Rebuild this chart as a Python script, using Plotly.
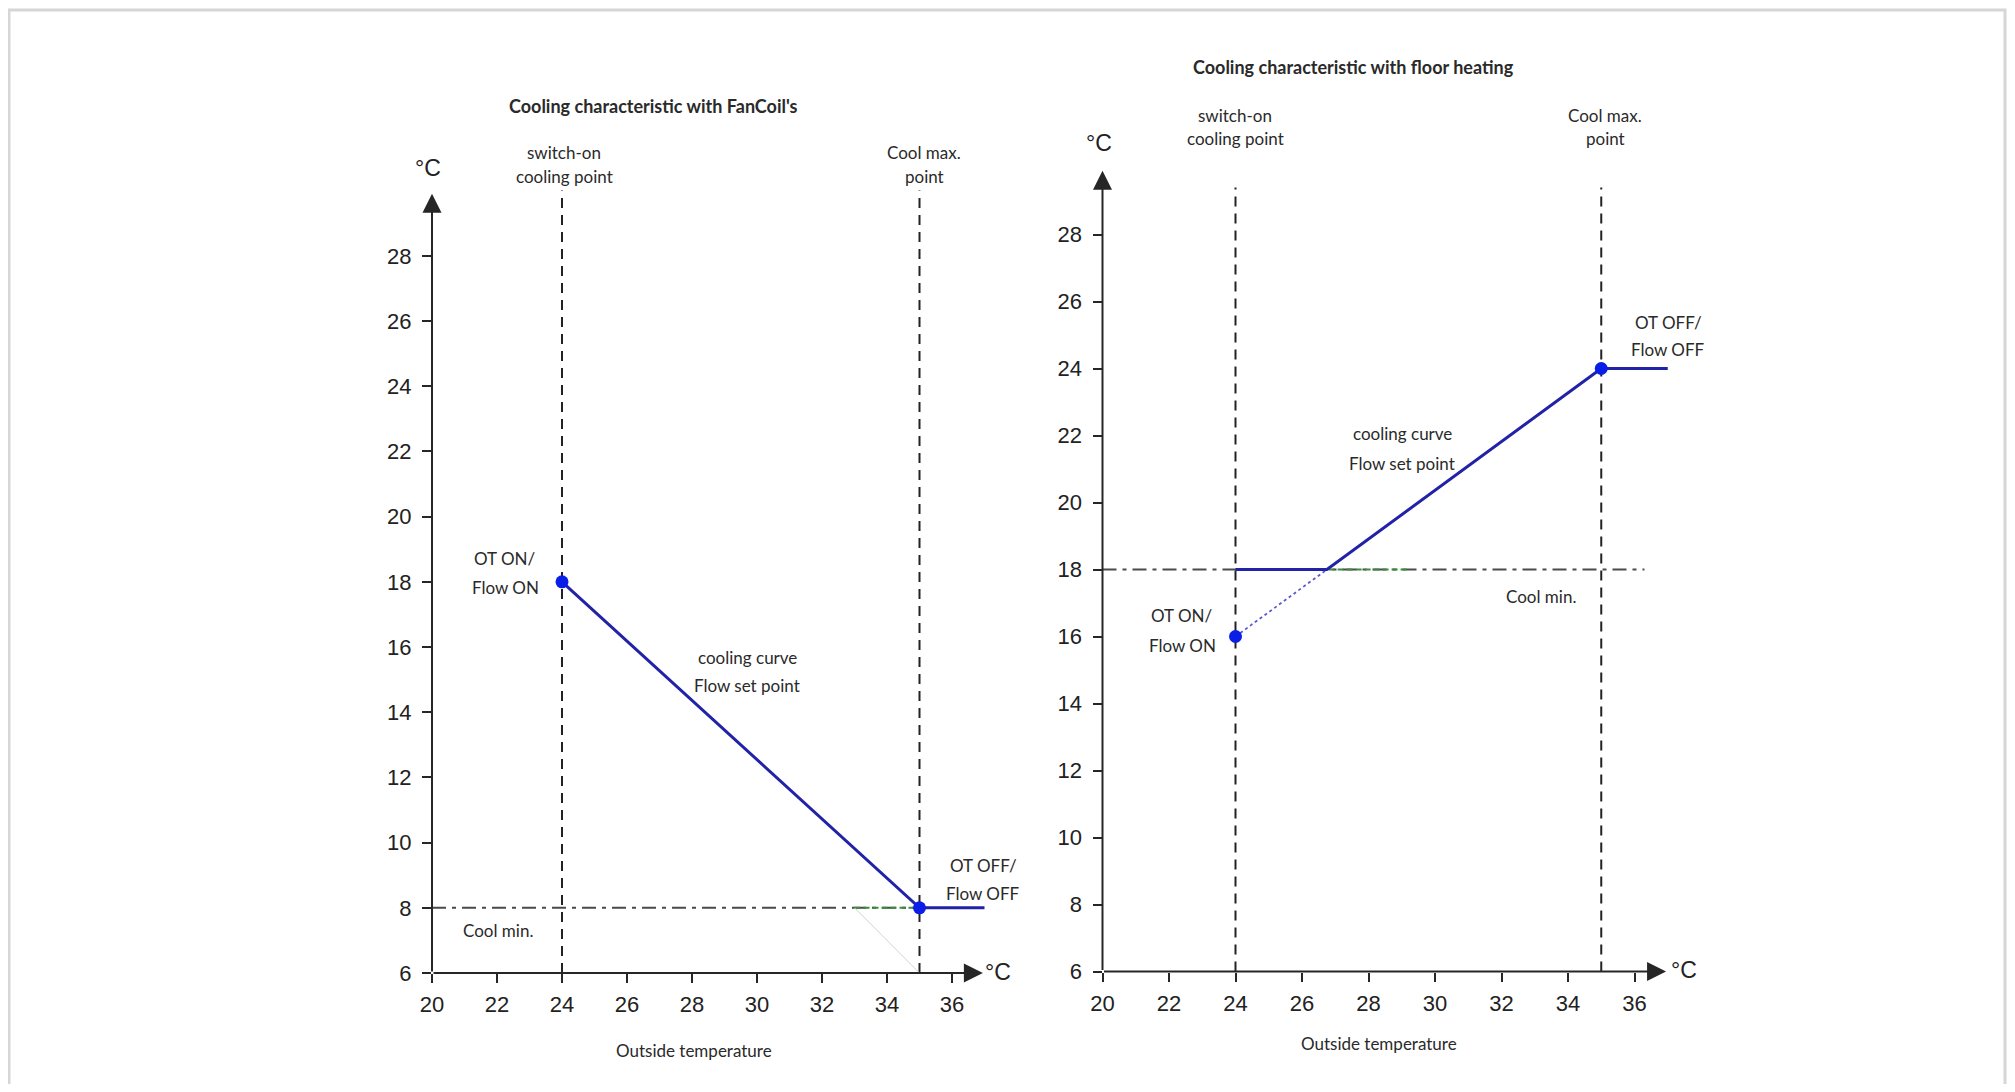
import plotly.graph_objects as go

# ---------------- data ----------------
x_ticks = [20, 22, 24, 26, 28, 30, 32, 34, 36]
y_ticks = [6, 8, 10, 12, 14, 16, 18, 20, 22, 24, 26, 28]

switch_on_point = 24
cool_max_point = 35

# FanCoil panel
fan_curve_x = [24, 35, 37]
fan_curve_y = [18, 8, 8]
fan_marker_x = [24, 35]
fan_marker_y = [18, 8]
fan_cool_min = 8

# Floor heating panel
floor_curve_x = [24, 26.75, 35, 37]
floor_curve_y = [18, 18, 24, 24]
floor_dotted_x = [24, 26.75]
floor_dotted_y = [16, 18]
floor_marker_x = [24, 35]
floor_marker_y = [16, 24]
floor_cool_min = 18

# ---------------- geometry ----------------
PAGE_MARGIN = 8           # default body margin of the html page
W, H = 2015 - 2 * PAGE_MARGIN, 1092 - 2 * PAGE_MARGIN
X_RANGE = [20, 37.3]
Y_RANGE = [6, 30.3]
# pixel position (in screen coords) of the origin and px per unit
L = dict(x0=432, y0=973, kx=32.5, ky=32.6)
R = dict(x0=1102.5, y0=971.5, kx=33.25, ky=33.5)


def sx(px):
    return (px - PAGE_MARGIN) / W


def sy(py):
    return 1 - (py - PAGE_MARGIN) / H


def dom(p):
    xd = [sx(p["x0"]), sx(p["x0"] + (X_RANGE[1] - X_RANGE[0]) * p["kx"])]
    yd = [sy(p["y0"]), sy(p["y0"] - (Y_RANGE[1] - Y_RANGE[0]) * p["ky"])]
    return xd, yd


AX_COL = "#262626"
LINE_BLUE = "#2222a8"
MARK_BLUE = "#0a1ee8"
TXT = "#2a2a2a"
TXT_FONT = "Lato, Carlito, Calibri, sans-serif"
NUM_FONT = "Liberation Sans, Arial, sans-serif"

fig = go.Figure()

# ---- traces left ----
fig.add_trace(go.Scatter(x=fan_curve_x, y=fan_curve_y, mode="lines",
                         line=dict(color=LINE_BLUE, width=3), xaxis="x", yaxis="y",
                         showlegend=False, hoverinfo="skip"))
fig.add_trace(go.Scatter(x=fan_marker_x, y=fan_marker_y, mode="markers",
                         marker=dict(color=MARK_BLUE, size=13), xaxis="x", yaxis="y",
                         showlegend=False, cliponaxis=False))

# ---- traces right ----
fig.add_trace(go.Scatter(x=floor_dotted_x, y=floor_dotted_y, mode="lines",
                         line=dict(color="#5a5ad0", width=1.8, dash="dot"), xaxis="x2", yaxis="y2",
                         showlegend=False, hoverinfo="skip"))
fig.add_trace(go.Scatter(x=floor_curve_x, y=floor_curve_y, mode="lines",
                         line=dict(color=LINE_BLUE, width=3), xaxis="x2", yaxis="y2",
                         showlegend=False, hoverinfo="skip"))
fig.add_trace(go.Scatter(x=floor_marker_x, y=floor_marker_y, mode="markers",
                         marker=dict(color=MARK_BLUE, size=13), xaxis="x2", yaxis="y2",
                         showlegend=False, cliponaxis=False))

shapes = []
annotations = []

# border frame (kept just inside the figure area)
shapes.append(dict(type="rect", xref="paper", yref="paper",
                   x0=sx(9), x1=1 - 2 / W, y0=-0.05, y1=1 - 2 / H,
                   line=dict(color="#d6d6d6", width=3), layer="below"))


def panel_shapes(xr, yr, cool_min, green_from, green_to, dd_end, vtop):
    out = []
    for xv in (switch_on_point, cool_max_point):
        out.append(dict(type="line", xref=xr, yref=yr, x0=xv, x1=xv, y0=Y_RANGE[0], y1=vtop,
                        line=dict(color="#222222", width=2, dash="10px,7px"), layer="below"))
    out.append(dict(type="line", xref=xr, yref=yr, x0=20, x1=dd_end, y0=cool_min, y1=cool_min,
                    line=dict(color="#4a4a4a", width=2, dash="14px,6px,4px,6px"), layer="below"))
    out.append(dict(type="line", xref=xr, yref=yr, x0=green_from, x1=green_to, y0=cool_min, y1=cool_min,
                    line=dict(color="#3c8c3c", width=2, dash="6px,3px"), layer="below"))
    return out


shapes += panel_shapes("x", "y", fan_cool_min, 33, cool_max_point, cool_max_point, 30.0)
shapes += panel_shapes("x2", "y2", floor_cool_min, 26.8, 29.2, 36.3, 29.4)
# faint guide line in left panel
shapes.append(dict(type="line", xref="x", yref="y", x0=33, x1=cool_max_point, y0=fan_cool_min, y1=6,
                   line=dict(color="#d0d0d0", width=1), layer="below"))


def axis_arrows(xr, yr):
    a = []
    a.append(dict(x=36.95, y=6, ax=20, ay=6, xref=xr, yref=yr, axref=xr, ayref=yr,
                  text="", showarrow=True, arrowhead=2, arrowsize=1.9, arrowwidth=2,
                  arrowcolor=AX_COL, standoff=0, startstandoff=0))
    a.append(dict(x=20, y=29.9, ax=20, ay=6, xref=xr, yref=yr, axref=xr, ayref=yr,
                  text="", showarrow=True, arrowhead=2, arrowsize=1.9, arrowwidth=2,
                  arrowcolor=AX_COL, standoff=0, startstandoff=0))
    return a


annotations += axis_arrows("x", "y")
annotations += axis_arrows("x2", "y2")


def txt(s, px, py, size=17, bold=False, font=TXT_FONT, color=TXT):
    return dict(x=sx(px), y=sy(py), xref="paper", yref="paper", text=(f"<b>{s}</b>" if bold else s),
                showarrow=False, xanchor="center", yanchor="middle",
                font=dict(family=font, size=size, color=color))


labels = [
    # left
    ("Cooling characteristic with FanCoil's", 653, 106, 18, True),
    ("switch-on", 564, 153, 17, False),
    ("cooling point", 564, 176, 17, False),
    ("Cool max.", 924, 153, 17, False),
    ("point", 924, 176, 17, False),
    ("OT ON/", 505, 558, 17, False),
    ("Flow ON", 505, 587, 17, False),
    ("cooling curve", 747, 657, 17, False),
    ("Flow set point", 747, 685, 17, False),
    ("OT OFF/", 983, 865, 17, False),
    ("Flow OFF", 983, 893, 17, False),
    ("Cool min.", 498, 930, 17, False),
    ("Outside temperature", 694, 1050, 17, False),
    # right
    ("Cooling characteristic with floor heating", 1353, 67, 18, True),
    ("switch-on", 1235, 116, 17, False),
    ("cooling point", 1235, 139, 17, False),
    ("Cool max.", 1605, 116, 17, False),
    ("point", 1605, 139, 17, False),
    ("OT OFF/", 1668, 322, 17, False),
    ("Flow OFF", 1668, 350, 17, False),
    ("cooling curve", 1402, 433, 17, False),
    ("Flow set point", 1402, 463, 17, False),
    ("OT ON/", 1182, 615, 17, False),
    ("Flow ON", 1182, 645, 17, False),
    ("Cool min.", 1541, 596, 17, False),
    ("Outside temperature", 1379, 1043, 17, False),
]
for s, px, py, sz, b in labels:
    annotations.append(txt(s, px, py, sz, b))

for s, px, py in [("°C", 428, 168), ("°C", 998, 972), ("°C", 1099, 143), ("°C", 1684, 970)]:
    annotations.append(txt(s, px, py, 23, False, NUM_FONT, "#222222"))

lxd, lyd = dom(L)
rxd, ryd = dom(R)

ax_common = dict(range=X_RANGE, tickvals=x_ticks, ticks="outside", ticklen=9, tickwidth=2,
                 tickcolor=AX_COL, showline=False, showgrid=False, zeroline=False,
                 tickfont=dict(family=NUM_FONT, size=22, color="#222222"), ticklabelstandoff=3,
                 automargin=False)
ay_common = dict(range=Y_RANGE, tickvals=y_ticks, ticks="outside", ticklen=9, tickwidth=2,
                 tickcolor=AX_COL, showline=False, showgrid=False, zeroline=False,
                 tickfont=dict(family=NUM_FONT, size=22, color="#222222"), ticklabelstandoff=6,
                 automargin=False)

fig.update_layout(
    width=W, height=H,
    margin=dict(l=0, r=0, t=0, b=0, pad=0),
    paper_bgcolor="white", plot_bgcolor="rgba(0,0,0,0)",
    xaxis=dict(domain=lxd, anchor="y", **ax_common),
    yaxis=dict(domain=lyd, anchor="x", **ay_common),
    xaxis2=dict(domain=rxd, anchor="y2", **ax_common),
    yaxis2=dict(domain=ryd, anchor="x2", **ay_common),
    shapes=shapes,
    annotations=annotations,
    showlegend=False,
)

fig.write_html("out.html")
